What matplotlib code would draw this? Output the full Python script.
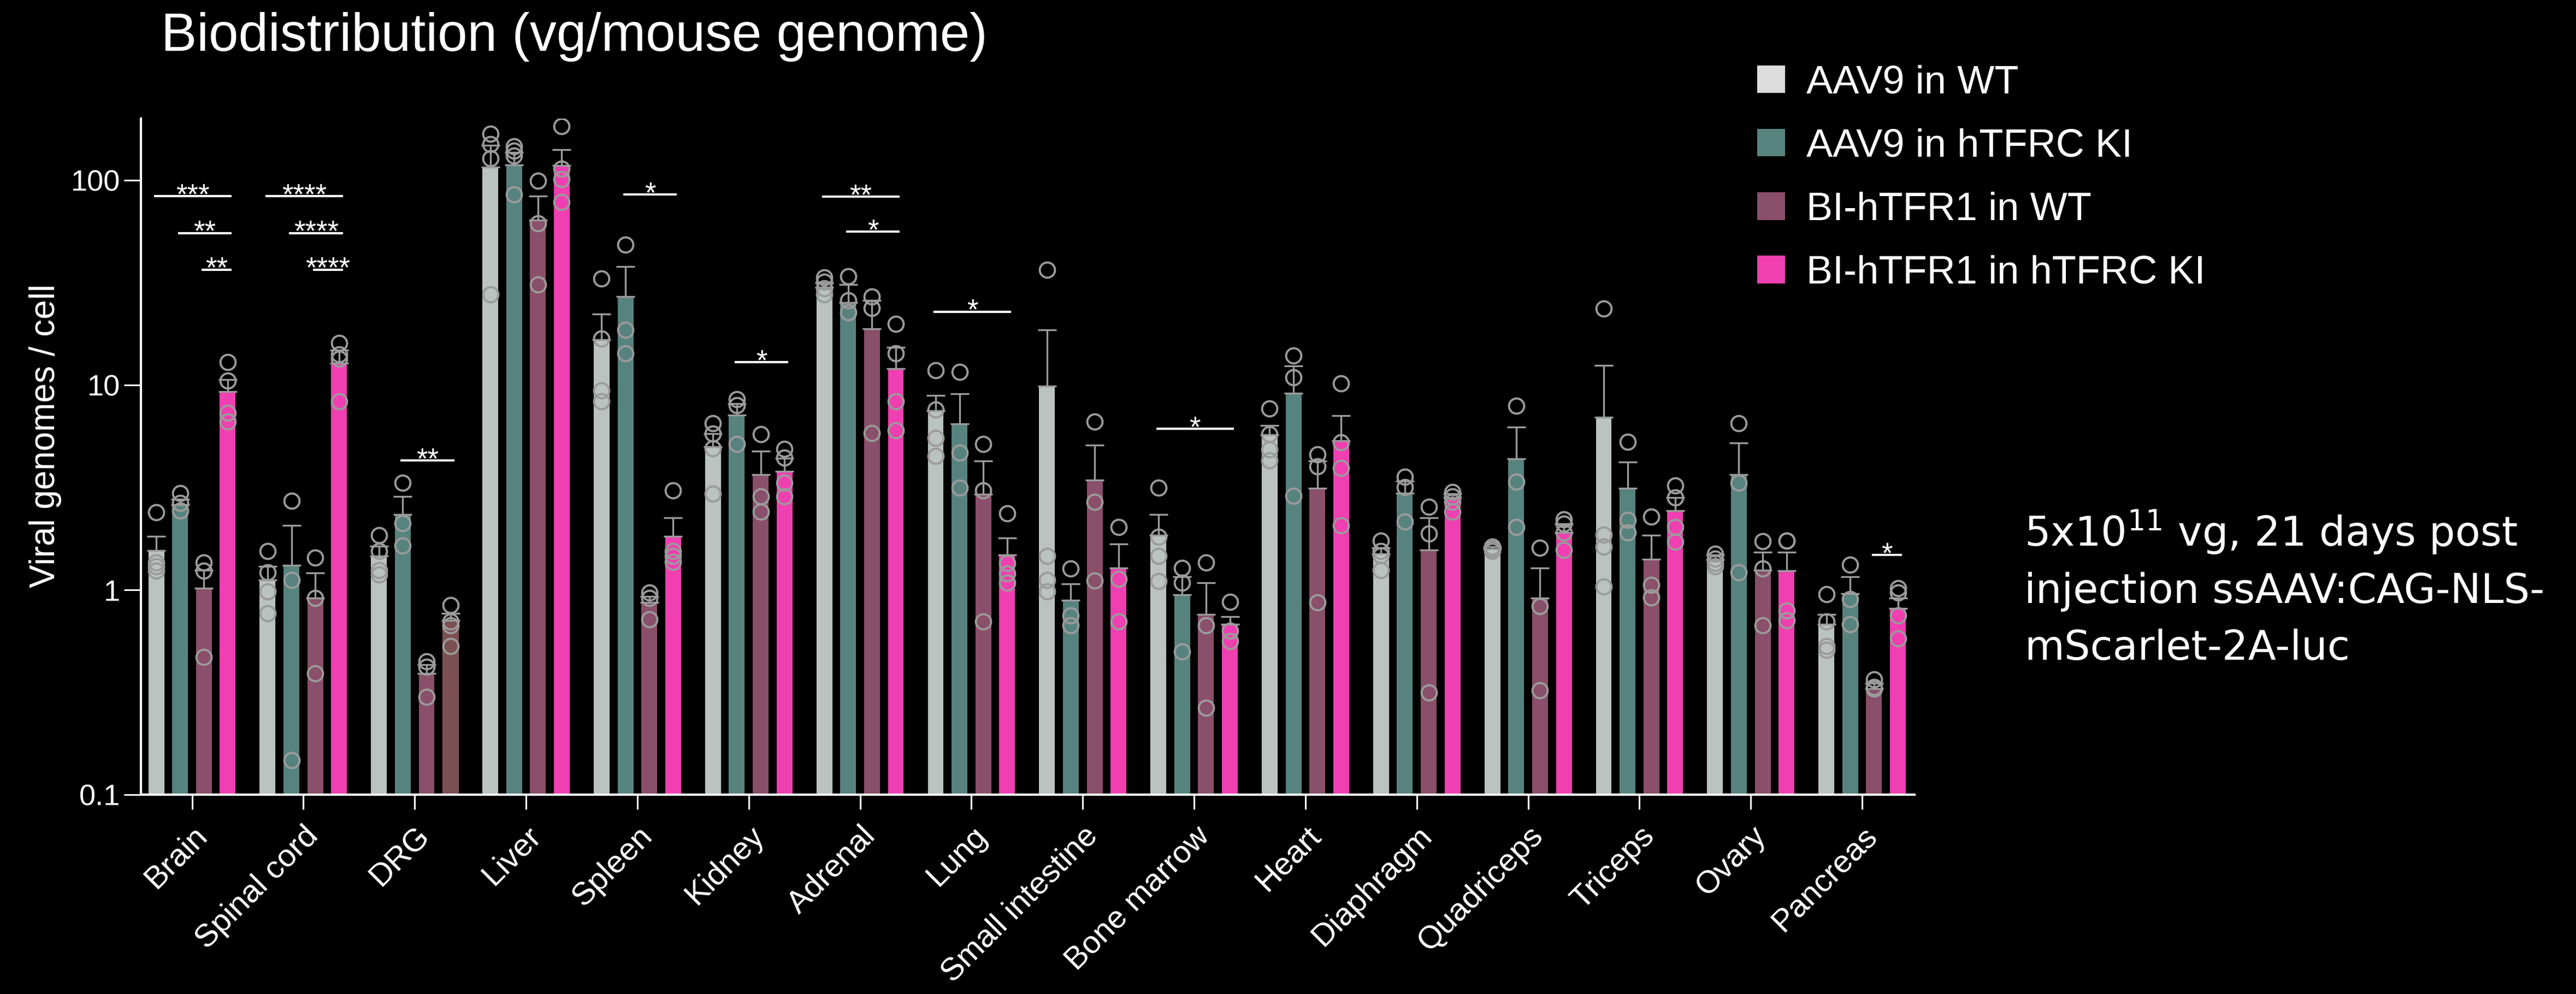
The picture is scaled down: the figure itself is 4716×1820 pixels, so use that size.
import matplotlib
matplotlib.use('Agg')
import matplotlib.pyplot as plt
import numpy as np
from matplotlib.patches import Patch
from matplotlib.ticker import NullLocator

plt.rcParams['font.family'] = 'Liberation Sans'
plt.rcParams['mathtext.fontset'] = 'custom'
plt.rcParams['mathtext.rm'] = 'DejaVu Sans'

tissues = ['Brain', 'Spinal cord', 'DRG', 'Liver', 'Spleen', 'Kidney', 'Adrenal', 'Lung',
           'Small intestine', 'Bone marrow', 'Heart', 'Diaphragm', 'Quadriceps', 'Triceps',
           'Ovary', 'Pancreas']
groups = ['AAV9 in WT', 'AAV9 in hTFRC KI', 'BI-hTFR1 in WT', 'BI-hTFR1 in hTFRC KI']

# mean, upper SEM and individual animals (vg per cell)
aav9_wt_mean = [1.56, 1.12, 1.46, 116, 16.6, 5.0, 30, 7.5, 9.9, 1.85, 5.7, 1.50, 1.58, 6.96, 1.40, 0.68]
aav9_wt_sem = [0.27, 0.18, 0.17, 32, 5.6, 0.8, 1.5, 1.4, 8.7, 0.48, 0.63, 0.10, 0.04, 5.5, 0.08, 0.08]
aav9_wt_pts = [[2.39, 1.36, 1.30, 1.24], [1.55, 1.22, 0.98, 0.77], [1.85, 1.55, 1.25, 1.19],
               [168, 150, 128, 27.7], [33, 16.8, 9.4, 8.3], [6.5, 5.8, 4.9, 2.94],
               [33.4, 31.8, 29.7, 27.7], [11.8, 7.6, 5.5, 4.5], [36.5, 1.46, 1.12, 0.98],
               [3.16, 1.81, 1.46, 1.10], [7.67, 5.77, 4.83, 4.29], [1.74, 1.55, 1.47, 1.25],
               [1.62, 1.58, 1.55], [23.6, 1.86, 1.62, 1.04], [1.50, 1.42, 1.35, 1.30],
               [0.955, 0.70, 0.53, 0.51]]

aav9_ki_mean = [2.6, 1.32, 2.34, 119, 27, 7.14, 25.3, 6.45, 0.89, 0.946, 9.12, 2.97, 4.36, 3.13, 3.65, 0.96]
aav9_ki_sem = [0.17, 0.74, 0.52, 18, 10.8, 0.96, 5.7, 2.6, 0.18, 0.21, 3.3, 0.43, 1.86, 1.08, 1.56, 0.20]
aav9_ki_pts = [[2.97, 2.65, 2.43], [2.72, 1.12, 0.147], [3.33, 2.12, 1.64], [146, 139, 132, 85],
               [48.5, 18.6, 14.3], [8.5, 7.95, 5.16], [34, 25.9, 22.6], [11.6, 4.66, 3.16],
               [1.27, 0.75, 0.67], [1.28, 1.08, 0.50], [13.9, 10.9, 2.87], [3.56, 3.18, 2.16],
               [7.9, 3.38, 2.03], [5.29, 2.19, 1.90], [6.52, 3.34, 1.22], [1.33, 0.90, 0.68]]

bi_wt_mean = [1.02, 0.91, 0.39, 63.9, 0.87, 3.65, 18.8, 2.93, 3.43, 0.76, 3.13, 1.57, 0.91, 1.41, 1.25, 0.33]
bi_wt_sem = [0.23, 0.30, 0.04, 19.8, 0.06, 1.1, 7.1, 1.32, 1.65, 0.32, 1.12, 0.68, 0.37, 0.44, 0.28, 0.02]
bi_wt_pts = [[1.36, 1.24, 0.47], [1.44, 0.91, 0.39], [0.447, 0.42, 0.30], [99, 61.6, 31],
             [0.97, 0.91, 0.72], [5.77, 2.86, 2.40], [27, 23.8, 5.82], [5.16, 3.05, 0.70],
             [6.62, 2.69, 1.11], [1.36, 0.67, 0.265], [4.59, 4.0, 0.87], [2.55, 1.88, 0.316],
             [1.60, 0.83, 0.324], [2.28, 1.06, 0.92], [1.73, 1.27, 0.67], [0.365, 0.336, 0.33]]

bi_ki_mean = [9.27, 12.8, 0.71, 118, 1.83, 3.8, 12, 1.48, 1.28, 0.68, 5.35, 2.83, 1.90, 2.43, 1.24, 0.81]
bi_ki_sem = [1.33, 2.0, 0.06, 23, 0.42, 0.6, 3.3, 0.31, 0.39, 0.06, 1.73, 0.12, 0.2, 0.4, 0.29, 0.10]
bi_ki_pts = [[12.9, 10.5, 7.33, 6.62], [16.0, 14.1, 13.4, 8.3], [0.84, 0.70, 0.67, 0.53],
             [184, 113.5, 101, 78], [3.05, 1.55, 1.46, 1.37], [4.88, 4.43, 3.33, 2.86],
             [19.9, 14.3, 8.3, 6.0], [2.36, 1.35, 1.20, 1.08], [2.03, 1.13, 0.70],
             [0.875, 0.63, 0.56], [10.2, 5.26, 3.94, 2.06], [3.0, 2.86, 2.69, 2.40],
             [2.21, 2.10, 1.90, 1.57], [3.24, 2.83, 2.03, 1.72], [1.74, 1.74, 0.79, 0.71],
             [1.02, 0.97, 0.75, 0.58]]

# (tissue, group a, group b, height, stars)
sig = [(0, 0, 3, 83.6, '***'), (0, 1, 3, 55.2, '**'), (0, 2, 3, 36.6, '**'),
       (1, 0, 3, 83.6, '****'), (1, 1, 3, 55.2, '****'), (1, 2, 3, 36.6, '****'),
       (2, 1, 3, 4.28, '**'), (4, 1, 3, 85, '*'), (5, 1, 3, 12.9, '*'),
       (6, 0, 3, 83, '**'), (6, 1, 3, 56, '*'), (7, 0, 3, 22.8, '*'),
       (9, 0, 3, 6.1, '*'), (15, 2, 3, 1.48, '*')]

means = [aav9_wt_mean, aav9_ki_mean, bi_wt_mean, bi_ki_mean]
sems = [aav9_wt_sem, aav9_ki_sem, bi_wt_sem, bi_ki_sem]
points = [aav9_wt_pts, aav9_ki_pts, bi_wt_pts, bi_ki_pts]
colors = ['#bac3bf', '#57837f', '#8a4f6a', '#ef3fb1']
legend_colors = ['#dcdcdc', '#57837f', '#8a4f6a', '#ef3fb1']
dot_color = '#9b9b9b'

fig = plt.figure(figsize=(47.16, 18.2), dpi=100, facecolor='black')
ax = fig.add_axes([0.0547, 0.2005, 0.6885, 0.6803])
ax.set_facecolor('black')

x = np.arange(len(tissues))
step = 0.214
width = 0.142
offsets = (np.arange(4) - 1.5) * step

for k in range(4):
    xs = x + offsets[k]
    bars = ax.bar(xs, means[k], width, color=colors[k], zorder=2)
    if k == 3:
        bars[2].set_color('#7c5052')  # DRG bar
    ax.errorbar(xs, means[k], yerr=[np.zeros(len(x)), sems[k]], fmt='none',
                ecolor=dot_color, elinewidth=2.4, capsize=12, capthick=2.4, zorder=3)
    for i, pts in enumerate(points[k]):
        ax.plot([xs[i]] * len(pts), pts, 'o', mfc='none', mec=dot_color,
                ms=20, mew=2.8, zorder=4)

for t, a, b, y, stars in sig:
    x0 = t + offsets[a] - 0.02
    x1 = t + offsets[b] + 0.035
    ax.plot([x0, x1], [y, y], color='white', lw=2.9, solid_capstyle='butt', zorder=5)
    ax.annotate(stars, ((x0 + x1) / 2, y), xytext=(0, -10), textcoords='offset points',
                ha='center', va='baseline', color='white', fontsize=38, zorder=5)

ax.set_yscale('log')
ax.set_ylim(0.1, 200)
ax.set_xlim(-0.459, 15.47)
ax.set_yticks([0.1, 1, 10, 100])
ax.set_yticklabels(['0.1', '1', '10', '100'])
ax.yaxis.set_minor_locator(NullLocator())
ax.set_xticks(x)
ax.set_xticklabels(tissues, rotation=45, ha='right', rotation_mode='anchor')

for side in ['top', 'right']:
    ax.spines[side].set_visible(False)
for side in ['left', 'bottom']:
    ax.spines[side].set_color('white')
    ax.spines[side].set_linewidth(2.9)

ax.tick_params(axis='y', colors='white', width=2.2, length=22, labelsize=39, pad=5)
ax.tick_params(axis='x', colors='white', width=2.2, length=19.5, labelsize=42, pad=15)

ax.set_ylabel('Viral genomes / cell', color='white', fontsize=46, va='center')
ax.yaxis.set_label_coords(-0.054, 0.531)

fig.text(0.0626, 0.9489, 'Biodistribution (vg/mouse genome)', fontsize=70.5, color='white',
         ha='left', va='baseline')

handles = [Patch(facecolor=c, edgecolor='none') for c in legend_colors]
fig.legend(handles, groups, loc='upper left', bbox_to_anchor=(0.6821, 0.935), frameon=False,
           fontsize=52, handlelength=0.71, handleheight=0.7, handletextpad=0.54,
           labelspacing=0.68, borderaxespad=0, borderpad=0, labelcolor='white')

note = ['5x10$^{\\mathrm{11}}$ vg, 21 days post', 'injection ssAAV:CAG-NLS-', 'mScarlet-2A-luc']
for line, yy in zip(note, [0.4505, 0.3934, 0.3363]):
    fig.text(0.7858, yy, line, fontsize=54, family='DejaVu Sans', color='white',
             ha='left', va='baseline')

fig.savefig('out.png', dpi=100, facecolor='black')
